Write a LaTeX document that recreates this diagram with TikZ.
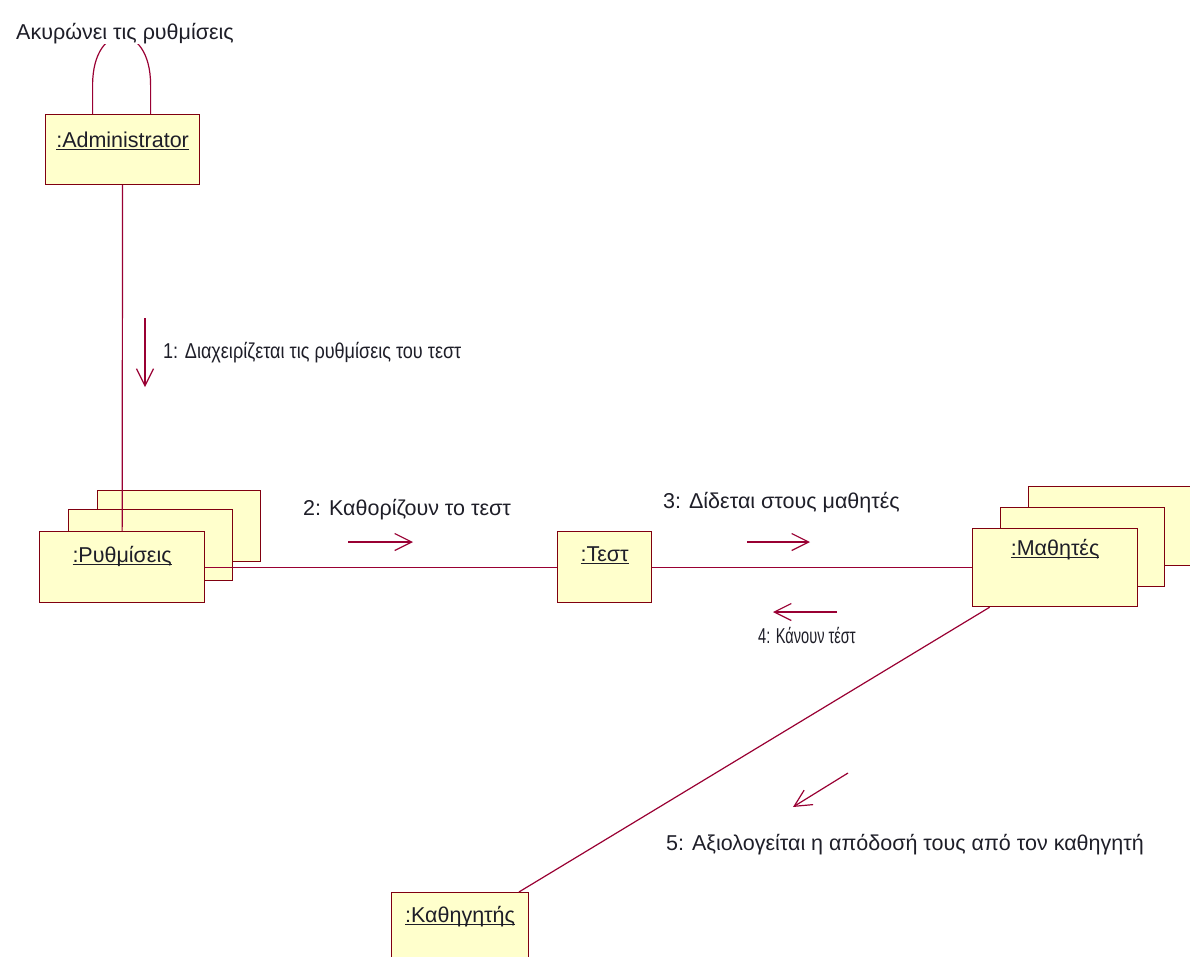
\documentclass[tikz,border=0pt]{standalone}
\usepackage{fontspec}
\setmainfont{Liberation Sans}
\newfontfamily\condfont[FakeStretch=0.84]{Liberation Sans}
\newfontfamily\tightfont[FakeStretch=0.68]{Liberation Sans}
\usetikzlibrary{arrows.meta,positioning}
\definecolor{roseline}{RGB}{153,0,51}
\definecolor{roseborder}{RGB}{128,0,16}
\definecolor{rosefill}{RGB}{255,255,204}
\definecolor{rosetext}{RGB}{30,30,40}
\newcommand{\objname}[1]{\setbox0\hbox{#1}\rlap{\rule[-2.6pt]{\wd0}{0.9pt}}\box0}

\begin{document}
\begin{tikzpicture}[x=1pt,y=-1pt,
    every node/.style={font=\fontsize{21.5}{24}\selectfont, text=rosetext},
    obj/.style={draw=roseborder, fill=rosefill, line width=1.2pt, rectangle,
        inner sep=0pt, anchor=north west, text height=31pt, text depth=40pt},
    link/.style={draw=roseline, line width=1.2pt},
    msg/.style={draw=roseline, line width=1.2pt, -{Straight Barb[length=17pt,width=17pt]}},
    lbl/.style={inner sep=1pt}]
\useasboundingbox (0,0) rectangle (1190,956);
\clip (0,0) rectangle (1190,956);

% Objects
\node[obj, minimum width=154pt, text height=33pt, text depth=37pt] (adm) at (45,114) {\objname{:Administrator}};

\node[obj, minimum width=163pt] (ryth2) at (97,490) {};
\node[obj, minimum width=164pt] (ryth1) at (68,509) {};
\node[obj, minimum width=165pt] (ryth) at (39,531) {\objname{:Ρυθμίσεις}};

\node[obj, minimum width=94pt, text height=30pt, text depth=41pt] (test) at (557,531) {\objname{:Τεστ}};

\node[obj, minimum width=165pt, text height=27pt, text depth=52pt] (math2) at (1028,486) {};
\node[obj, minimum width=164pt, text height=27pt, text depth=52pt] (math1) at (1000,507) {};
\node[obj, minimum width=165pt, text height=27pt, text depth=51pt] (math) at (972,528) {\objname{:Μαθητές}};

\node[obj, minimum width=137pt, text height=30pt, text depth=40pt] (kath) at (391,892) {\objname{:Καθηγητής}};

% Links
\coordinate (loopL) at ([xshift=-30pt,yshift=29pt]adm.north);
\coordinate (loopR) at ([xshift=28pt,yshift=29pt]adm.north);
\draw[link] (adm.north -| loopL) -- (loopL)
    .. controls +(0,-65) and +(0,-65) .. (loopR) -- (adm.north -| loopR);
\draw[link] (adm) -- (ryth);
\draw[link] (ryth) -- (test);
\draw[link] (test.east) -- (test.east -| math.west);
\draw[link] (math) -- (kath);

% Messages
\draw[msg] (145,318) -- (145,387);
\draw[msg] (348,542) -- (413,542);
\draw[msg] (747,542) -- (810,542);
\draw[msg] (837,612) -- (773,612);
\draw[msg] (848,773) -- (793,807);

% Labels
\node[lbl, fill=white, anchor=base west] (cancel) at (15,39) {Ακυρώνει τις ρυθμίσεις};
\node[lbl, anchor=base west, font=\fontsize{21.5}{24}\condfont] (l1) at (162,358) {1: Διαχειρίζεται τις ρυθμίσεις του τεστ};
\node[lbl, anchor=base west] (l2) at (302,515) {2: Καθορίζουν το τεστ};
\node[lbl, anchor=base west] (l3) at (662,508) {3: Δίδεται στους μαθητές};
\node[lbl, anchor=base west, font=\fontsize{21.5}{24}\tightfont] (l4) at (757,643) {4: Κάνουν τέστ};
\node[lbl, anchor=base east] (l5) at (1145,850) {5: Αξιολογείται η απόδοσή τους από τον καθηγητή};
\end{tikzpicture}
\end{document}
